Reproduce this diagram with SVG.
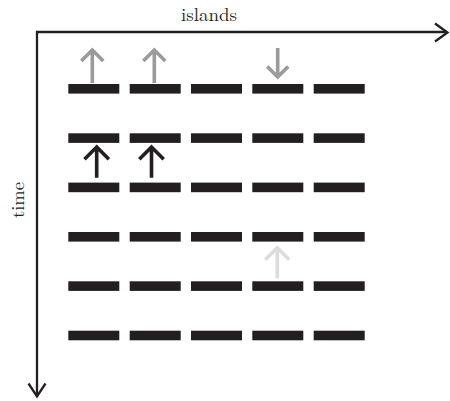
<svg xmlns="http://www.w3.org/2000/svg" width="450" height="401" viewBox="0 0 450 401">
<style>
.bar{fill:#231f20}
.ax{fill:none;stroke:#231f20;stroke-width:2.3}
.arr{fill:none;stroke-width:3.6;stroke-linejoin:miter}
.g1{stroke:#9b9b9b}
.g2{stroke:#dcdcdc}
.bk{stroke:#231f20}
.lbl{font-family:"Latin Modern Roman","Liberation Serif",serif;font-size:18px;fill:#231f20}
</style>
<rect width="450" height="401" fill="#fff"/>
<g id="axes">
<path class="ax" d="M37,396 L37,32 L447,32"/>
<path class="ax" d="M435,23.5 L447.5,32.5 L435,41.5"/>
<path class="ax" d="M28.5,383.5 L37,396.5 L45.5,383.5"/>
<text class="lbl" x="209" y="21" text-anchor="middle" textLength="56" lengthAdjust="spacingAndGlyphs">islands</text>
<text class="lbl" transform="translate(24,200) rotate(-90)" text-anchor="middle" textLength="36" lengthAdjust="spacingAndGlyphs">time</text>
</g>
<g id="islands">
<g id="row0"><rect class="bar" x="68.3" y="84" width="51" height="9.6"/><rect class="bar" x="129.7" y="84" width="51" height="9.6"/><rect class="bar" x="191" y="84" width="51" height="9.6"/><rect class="bar" x="252.3" y="84" width="51" height="9.6"/><rect class="bar" x="313.7" y="84" width="51" height="9.6"/></g>
<g id="row1"><rect class="bar" x="68.3" y="133.3" width="51" height="9.6"/><rect class="bar" x="129.7" y="133.3" width="51" height="9.6"/><rect class="bar" x="191" y="133.3" width="51" height="9.6"/><rect class="bar" x="252.3" y="133.3" width="51" height="9.6"/><rect class="bar" x="313.7" y="133.3" width="51" height="9.6"/></g>
<g id="row2"><rect class="bar" x="68.3" y="182.6" width="51" height="9.6"/><rect class="bar" x="129.7" y="182.6" width="51" height="9.6"/><rect class="bar" x="191" y="182.6" width="51" height="9.6"/><rect class="bar" x="252.3" y="182.6" width="51" height="9.6"/><rect class="bar" x="313.7" y="182.6" width="51" height="9.6"/></g>
<g id="row3"><rect class="bar" x="68.3" y="232" width="51" height="9.6"/><rect class="bar" x="129.7" y="232" width="51" height="9.6"/><rect class="bar" x="191" y="232" width="51" height="9.6"/><rect class="bar" x="252.3" y="232" width="51" height="9.6"/><rect class="bar" x="313.7" y="232" width="51" height="9.6"/></g>
<g id="row4"><rect class="bar" x="68.3" y="281.3" width="51" height="9.6"/><rect class="bar" x="129.7" y="281.3" width="51" height="9.6"/><rect class="bar" x="191" y="281.3" width="51" height="9.6"/><rect class="bar" x="252.3" y="281.3" width="51" height="9.6"/><rect class="bar" x="313.7" y="281.3" width="51" height="9.6"/></g>
<g id="row5"><rect class="bar" x="68.3" y="330.7" width="51" height="9.6"/><rect class="bar" x="129.7" y="330.7" width="51" height="9.6"/><rect class="bar" x="191" y="330.7" width="51" height="9.6"/><rect class="bar" x="252.3" y="330.7" width="51" height="9.6"/><rect class="bar" x="313.7" y="330.7" width="51" height="9.6"/></g>
</g>
<g id="connectors">
<path class="arr g1" d="M92.3,83 V50.5 M81.3,61 L92.3,50 L103.3,61"/>
<path class="arr g1" d="M154.3,83 V50.5 M143.3,61 L154.3,50 L165.3,61"/>
<path class="arr g1" d="M277.7,48 V76.5 M267.2,66.5 L277.7,77 L288.2,66.5"/>
<path class="arr bk" d="M96.7,177.7 V147.5 M84.5,159.2 L96.7,147 L108.9,159.2"/>
<path class="arr bk" d="M151.5,177.7 V147.5 M139.3,159.2 L151.5,147 L163.7,159.2"/>
<path class="arr g2" d="M277.3,278.3 V248.2 M265.3,259.7 L277.3,247.7 L289.3,259.7"/>
</g>
</svg>
